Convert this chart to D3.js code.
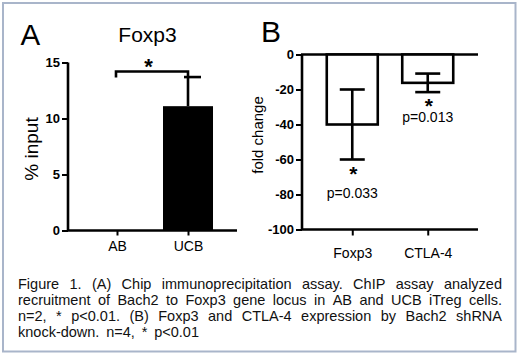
<!DOCTYPE html>
<html><head><meta charset="utf-8">
<script src="https://cdn.jsdelivr.net/npm/d3@7"></script>
<style>html,body{margin:0;padding:0;background:#fff;}svg{display:block;font-family:"Liberation Sans",Arial,sans-serif;}</style>
</head><body>
<svg id="c" width="520" height="356"></svg>
<script>
// Panel A data
const catsA = ["AB", "UCB"];
const valsA = [0, 11.1];
const errA = [0, 2.6];
const ticksA = [0, 5, 10, 15];
// Panel B data
const catsB = ["Foxp3", "CTLA-4"];
const valsB = [-40, -16.2];
const errB = [20, 5.3];
const ticksB = [0, -20, -40, -60, -80, -100];
const pLabels = ["p=0.033", "p=0.013"];
const captionLines = [
  "Figure 1. (A) Chip immunoprecipitation assay. ChIP assay analyzed",
  "recruitment of Bach2 to Foxp3 gene locus in AB and UCB iTreg cells.",
  "n=2, * p<0.01. (B) Foxp3 and CTLA-4 expression by Bach2 shRNA",
  "knock-down. n=4, * p<0.01"
];

const svg = d3.select("#c");
svg.append("rect").attr("x",3).attr("y",3).attr("width",512.5).attr("height",348.5)
  .attr("fill","#fff").attr("stroke","#a9b5ca").attr("stroke-width",2);

const LW = 2.6;
const fmt = d => String(d);
// ---------- Panel A ----------
const yA = d3.scaleLinear().domain([0,15]).range([230.5,62.5]);
const xA = d3.scalePoint().domain(catsA).range([68,237]).padding(0.69);
const gA = svg.append("g");
const axA = gA.append("g").attr("transform","translate(68,0)")
  .call(d3.axisLeft(yA).tickValues(ticksA).tickFormat(fmt).tickSize(6).tickPadding(2));
axA.select(".domain").attr("stroke","#000").attr("stroke-width",LW).attr("d","M0,"+yA(15)+"V"+yA(0));
axA.selectAll(".tick line").attr("stroke","#000").attr("stroke-width",2);
axA.selectAll(".tick text").attr("font-size",13).attr("font-weight","bold").attr("fill","#000")
  .attr("font-family","Liberation Sans, Arial, sans-serif");
const bxA = gA.append("g").attr("transform","translate(0,"+yA(0)+")")
  .call(d3.axisBottom(xA).tickSize(5).tickPadding(5));
bxA.select(".domain").attr("stroke","#000").attr("stroke-width",LW).attr("d","M67,0H237");
bxA.selectAll(".tick line").attr("stroke","#000").attr("stroke-width",2);
bxA.selectAll(".tick text").attr("font-size",14).attr("fill","#000")
  .attr("font-family","Liberation Sans, Arial, sans-serif").attr("y",20.5).attr("dy",0);
const bwA = 50;
gA.selectAll(".barA").data(catsA).join("rect").attr("class","barA")
  .attr("x",d=>xA(d)-bwA/2).attr("width",bwA)
  .attr("y",(d,i)=>yA(valsA[i])).attr("height",(d,i)=>yA(0)-yA(valsA[i]))
  .attr("fill","#000");
catsA.forEach((c,i)=>{
  if(errA[i]<=0) return;
  const x = xA(c), top = yA(valsA[i]+errA[i]);
  gA.append("line").attr("x1",x).attr("x2",x).attr("y1",yA(valsA[i])).attr("y2",top)
    .attr("stroke","#000").attr("stroke-width",LW);
  gA.append("line").attr("x1",x-4).attr("x2",x+13).attr("y1",top).attr("y2",top)
    .attr("stroke","#000").attr("stroke-width",LW);
});
// significance bracket
const brY = yA(14.2);
gA.append("path").attr("d",`M${xA("AB")-1},${brY+6}V${brY}H${xA("UCB")}V${brY+5}`)
  .attr("fill","none").attr("stroke","#000").attr("stroke-width",LW);
gA.append("text").attr("x",(xA("AB")+xA("UCB"))/2-4).attr("y",brY+2.5).attr("text-anchor","middle")
  .attr("font-size",22).attr("font-weight","bold").text("*");
gA.append("text").attr("x",147.5).attr("y",42).attr("text-anchor","middle").attr("font-size",21).text("Foxp3");
gA.append("text").attr("x",20.5).attr("y",45).attr("font-size",29.5).text("A");
gA.append("text").attr("transform","translate(37.5,149) rotate(-90)").attr("text-anchor","middle")
  .attr("font-size",19).text("% input");

// ---------- Panel B ----------
const yB = d3.scaleLinear().domain([-100,0]).range([229.5,54.5]);
const xB = d3.scalePoint().domain(catsB).range([302,478]).padding(0.666);
const gB = svg.append("g");
const axB = gB.append("g").attr("transform","translate(302,0)")
  .call(d3.axisLeft(yB).tickValues(ticksB).tickFormat(fmt).tickSize(6).tickPadding(2));
axB.select(".domain").attr("stroke","#000").attr("stroke-width",LW).attr("d","M0,"+yB(0)+"V"+yB(-100));
axB.selectAll(".tick line").attr("stroke","#000").attr("stroke-width",2);
axB.selectAll(".tick text").attr("font-size",13).attr("font-weight","bold").attr("fill","#000")
  .attr("font-family","Liberation Sans, Arial, sans-serif");
// zero line
gB.append("line").attr("x1",301).attr("x2",478).attr("y1",yB(0)).attr("y2",yB(0))
  .attr("stroke","#000").attr("stroke-width",LW);
const bxB = gB.append("g").attr("transform","translate(0,"+yB(-100)+")")
  .call(d3.axisBottom(xB).tickSize(6).tickPadding(5));
bxB.select(".domain").attr("stroke","#000").attr("stroke-width",LW).attr("d","M301,0H478");
bxB.selectAll(".tick line").attr("stroke","#000").attr("stroke-width",2);
bxB.selectAll(".tick text").attr("font-size",14).attr("fill","#000")
  .attr("font-family","Liberation Sans, Arial, sans-serif").attr("y",28).attr("dy",0);
const bwB = 51;
gB.selectAll(".barB").data(catsB).join("rect").attr("class","barB")
  .attr("x",d=>xB(d)-bwB/2).attr("width",bwB)
  .attr("y",yB(0)).attr("height",(d,i)=>yB(valsB[i])-yB(0))
  .attr("fill","#fff").attr("stroke","#000").attr("stroke-width",LW);
const pOff = [38.5, 30];
catsB.forEach((c,i)=>{
  const x = xB(c), lo = yB(valsB[i]-errB[i]), hi = yB(valsB[i]+errB[i]);
  gB.append("line").attr("x1",x).attr("x2",x).attr("y1",lo).attr("y2",hi).attr("stroke","#000").attr("stroke-width",LW);
  [lo,hi].forEach(yy=>gB.append("line").attr("x1",x-12.5).attr("x2",x+12.5).attr("y1",yy).attr("y2",yy)
    .attr("stroke","#000").attr("stroke-width",LW));
  gB.append("text").attr("x",x+1).attr("y",lo+21).attr("text-anchor","middle")
    .attr("font-size",21).attr("font-weight","bold").text("*");
  gB.append("text").attr("x",x).attr("y",lo+pOff[i]).attr("text-anchor","middle")
    .attr("font-size",14).text(pLabels[i]);
});
gB.append("text").attr("x",261).attr("y",41.7).attr("font-size",30).text("B");
gB.append("text").attr("transform","translate(263,135) rotate(-90)").attr("text-anchor","middle")
  .attr("font-size",15).text("fold change");

// ---------- Caption ----------
const cap = svg.append("g").attr("font-size",14.5).attr("fill","#111");
const left = 18, right = 502;
captionLines.forEach((line,li)=>{
  const y = 288.5 + li*16;
  const words = line.split(" ");
  const t = cap.append("text").attr("y",y);
  const spans = words.map(w=>t.append("tspan").text(w));
  const widths = spans.map(s=>s.node().getComputedTextLength());
  const total = d3.sum(widths);
  const W = li < captionLines.length-1 ? (right-left) : 181;
  const gap = (W - total)/(words.length-1);
  let x = left;
  spans.forEach((s,k)=>{ s.attr("x",x); x += widths[k] + gap; });
});
</script>
</body></html>
